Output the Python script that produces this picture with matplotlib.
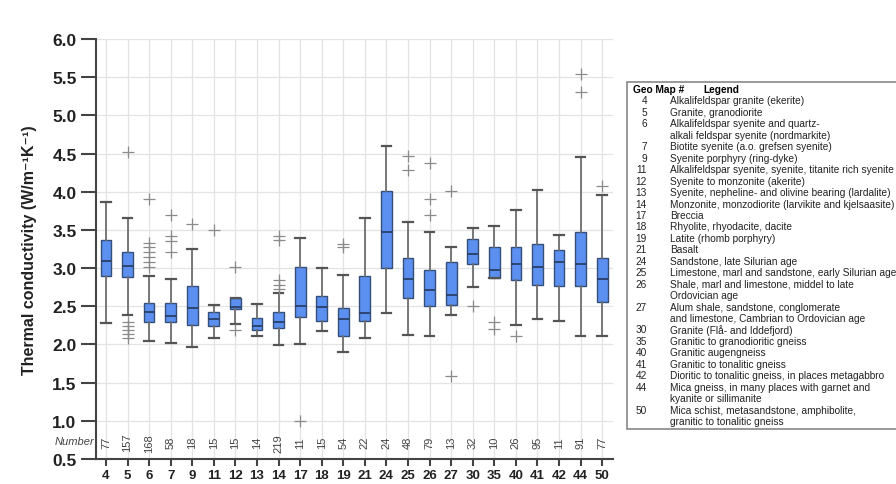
import numpy as np
import matplotlib
matplotlib.use('Agg')
from matplotlib import pyplot as plt
from matplotlib.patches import Rectangle

plt.rcParams['font.family'] = ['Liberation Sans', 'DejaVu Sans']

# geological map units and their thermal conductivity statistics
cats = ['4', '5', '6', '7', '9', '11', '12', '13', '14', '17', '18', '19',
        '21', '24', '25', '26', '27', '30', '35', '40', '41', '42', '44', '50']
whislo = [2.28, 2.39, 2.04, 2.02, 1.97, 2.08, 2.27, 2.11, 1.99, 2.01, 2.17, 1.90,
          2.08, 2.41, 2.12, 2.11, 2.39, 2.75, 2.87, 2.25, 2.33, 2.31, 2.11, 2.11]
q1 = [2.89, 2.88, 2.30, 2.30, 2.25, 2.24, 2.46, 2.19, 2.21, 2.36, 2.31, 2.11,
      2.31, 3.00, 2.61, 2.51, 2.52, 3.05, 2.87, 2.84, 2.78, 2.76, 2.77, 2.56]
med = [3.09, 3.03, 2.42, 2.37, 2.48, 2.33, 2.49, 2.24, 2.30, 2.51, 2.49, 2.33,
       2.41, 3.47, 2.86, 2.71, 2.65, 3.18, 2.97, 3.06, 3.01, 3.08, 3.05, 2.86]
q3 = [3.37, 3.21, 2.54, 2.54, 2.77, 2.43, 2.61, 2.35, 2.42, 3.01, 2.64, 2.48,
      2.90, 4.01, 3.13, 2.97, 3.08, 3.38, 3.28, 3.27, 3.31, 3.24, 3.47, 3.13]
whishi = [3.86, 3.66, 2.89, 2.86, 3.25, 2.52, 2.61, 2.53, 2.68, 3.40, 3.00, 2.91,
          3.65, 4.60, 3.61, 3.47, 3.27, 3.53, 3.55, 3.76, 4.02, 3.43, 4.46, 3.96]
fliers = [[],
          [4.52, 2.29, 2.24, 2.19, 2.14, 2.09],
          [3.90, 3.33, 3.27, 3.21, 3.14, 3.08, 3.01],
          [3.69, 3.42, 3.36, 3.21],
          [3.58],
          [3.50],
          [3.01, 2.19],
          [],
          [3.42, 3.37, 2.84, 2.78, 2.72],
          [1.00],
          [],
          [3.32, 3.28],
          [],
          [],
          [4.47, 4.28],
          [4.38, 3.91, 3.70],
          [4.01, 1.59],
          [2.51],
          [2.29, 2.20],
          [2.11],
          [],
          [],
          [5.54, 5.30],
          [4.07]]
counts = [77, 157, 168, 58, 18, 15, 15, 14, 219, 11, 15, 54,
          22, 24, 48, 79, 13, 32, 10, 26, 95, 11, 91, 77]

legend_ids = ['4', '5', '6', '', '7', '9', '11', '12', '13', '14', '17', '18', '19', '21',
              '24', '25', '26', '', '27', '', '30', '35', '40', '41', '42', '44', '', '50', '']
legend_text = [
    'Alkalifeldspar granite (ekerite)',
    'Granite, granodiorite',
    'Alkalifeldspar syenite and quartz-',
    'alkali feldspar syenite (nordmarkite)',
    'Biotite syenite (a.o. grefsen syenite)',
    'Syenite porphyry (ring-dyke)',
    'Alkalifeldspar syenite, syenite, titanite rich syenite',
    'Syenite to monzonite (akerite)',
    'Syenite, nepheline- and olivine bearing (lardalite)',
    'Monzonite, monzodiorite (larvikite and kjelsaasite)',
    'Breccia',
    'Rhyolite, rhyodacite, dacite',
    'Latite (rhomb porphyry)',
    'Basalt',
    'Sandstone, late Silurian age',
    'Limestone, marl and sandstone, early Silurian age',
    'Shale, marl and limestone, middel to late',
    'Ordovician age',
    'Alum shale, sandstone, conglomerate',
    'and limestone, Cambrian to Ordovician age',
    'Granite (Flå- and Iddefjord)',
    'Granitic to granodioritic gneiss',
    'Granitic augengneiss',
    'Granitic to tonalitic gneiss',
    'Dioritic to tonalitic gneiss, in places metagabbro',
    'Mica gneiss, in many places with garnet and',
    'kyanite or sillimanite',
    'Mica schist, metasandstone, amphibolite,',
    'granitic to tonalitic gneiss',
]

W, H = 896, 485
fig = plt.figure(figsize=(W / 100, H / 100), dpi=100)
ax = fig.add_axes([96 / W, 25 / H, 517 / W, 420 / H])

pos = np.arange(len(cats))
stats = []
for i in range(len(cats)):
    stats.append(dict(med=med[i], q1=q1[i], q3=q3[i], whislo=whislo[i],
                      whishi=whishi[i], fliers=fliers[i]))

ax.bxp(stats, positions=pos, widths=0.5, patch_artist=True,
       boxprops=dict(facecolor='#5b8ff0', edgecolor='#34507a', linewidth=1.0),
       medianprops=dict(color='#2a3f66', linewidth=1.3),
       whiskerprops=dict(color='#6e6e6e', linewidth=1.3),
       capprops=dict(color='#555555', linewidth=1.6),
       flierprops=dict(marker='+', markeredgecolor='#8a8a8a', markersize=9,
                       markeredgewidth=0.9, linestyle='none'),
       capwidths=0.45, zorder=3)

ax.set_xlim(-0.46, 23.5)
ax.set_ylim(0.5, 6.0)
ax.set_xticks(pos)
ax.set_xticklabels(cats, fontsize=9.5, fontweight='bold', color='#222222')
ax.set_yticks(np.arange(0.5, 6.01, 0.5))
ax.set_yticklabels(['%.1f' % v for v in np.arange(0.5, 6.01, 0.5)],
                   fontsize=12.5, fontweight='bold', color='#222222')
ax.tick_params(axis='y', length=11, width=1.5, color='#444444', pad=3)
ax.tick_params(axis='x', length=5, width=1.5, color='#444444', pad=2)

ax.grid(True, color='#e3e3e3', linewidth=0.9, zorder=0)
ax.set_axisbelow(True)
for s in ['top', 'right']:
    ax.spines[s].set_visible(False)
for s in ['left', 'bottom']:
    ax.spines[s].set_linewidth(1.5)
    ax.spines[s].set_color('#444444')

ax.set_ylabel('Thermal conductivity (W/m\u207b\u00b9K\u207b\u00b9)', fontsize=11.5,
              fontweight='bold', color='#222222', labelpad=11)

# sample counts under each box
for i, n in enumerate(counts):
    ax.text(pos[i], 0.72, str(n), rotation=90, ha='center', va='center',
            fontsize=8, color='#444444')
ax.text(-0.55, 0.74, 'Number', ha='right', va='center', fontsize=8,
        style='italic', color='#444444')

# legend box on the right
fig.patches.append(Rectangle((627 / W, 1 - 430 / H), 280 / W, 347 / H,
                             transform=fig.transFigure, facecolor='white',
                             edgecolor='#888888', linewidth=1.2))
top = 1 - 90 / H
step = 11.45 / H
fig.text(633 / W, top, 'Geo Map #', fontsize=7.3, fontweight='bold', va='center')
fig.text(703 / W, top, 'Legend', fontsize=7.3, fontweight='bold', va='center')
for k, (gid, txt) in enumerate(zip(legend_ids, legend_text)):
    y = top - (k + 1) * step
    fig.text(647 / W, y, gid, fontsize=7.3, ha='right', va='center', color='#222222')
    fig.text(670 / W, y, txt, fontsize=7.3, ha='left', va='center', color='#222222')

fig.savefig('out.png', dpi=100)
